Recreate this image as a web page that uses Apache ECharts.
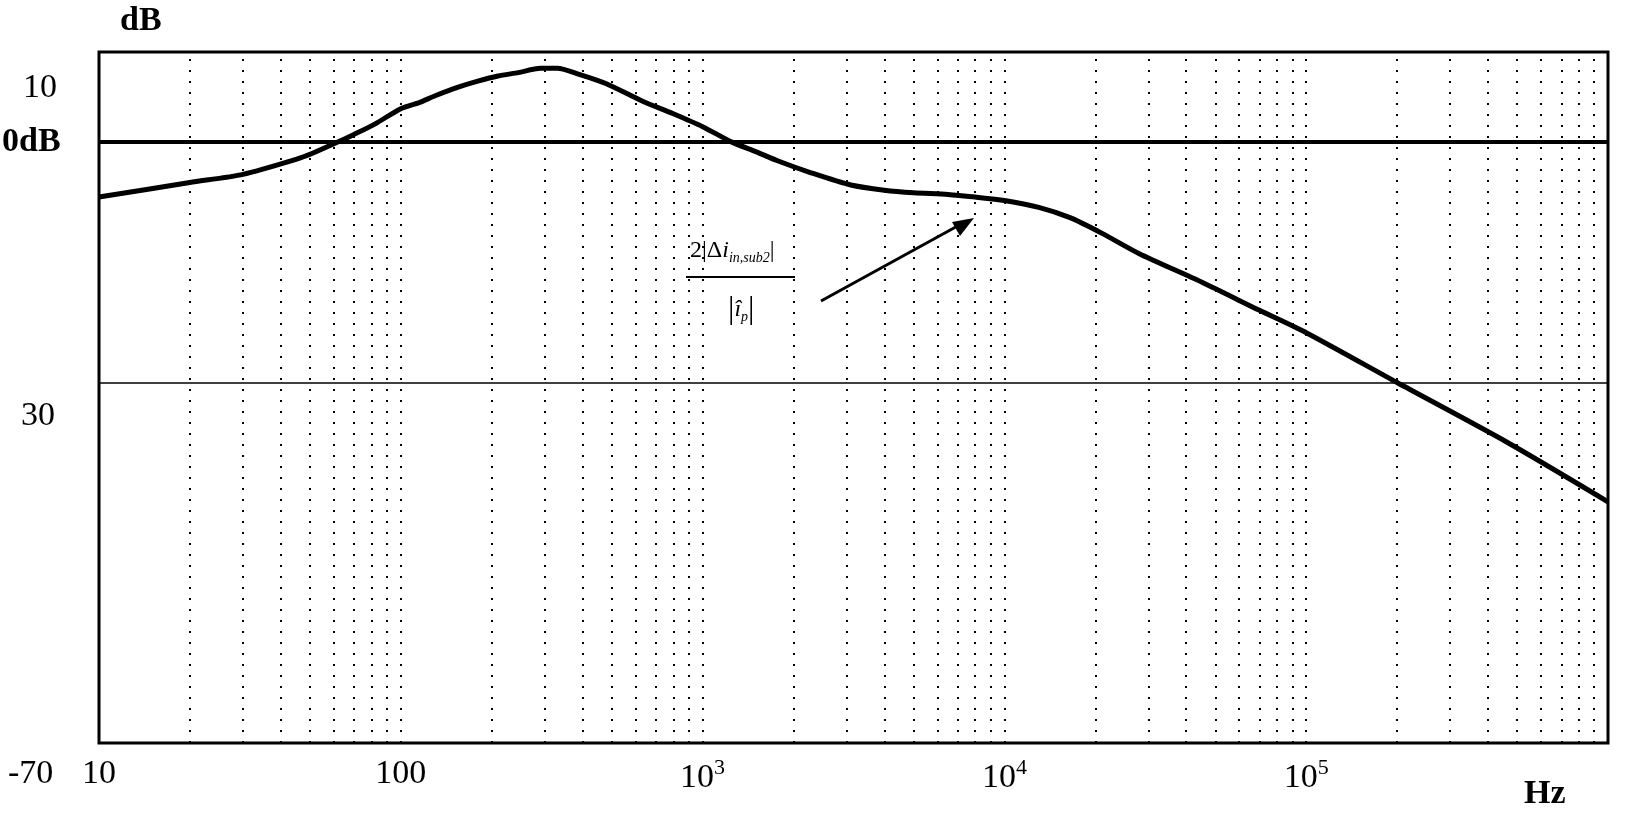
<!DOCTYPE html>
<html><head><meta charset="utf-8">
<script src="https://cdn.jsdelivr.net/npm/echarts@6/dist/echarts.min.js"></script>
<style>html,body{margin:0;padding:0;background:#fff}#c{width:1628px;height:818px}</style>
</head><body><div id="c"></div>
<script>
const freq = [10,20,30,45,51,60,70,82,100,115,130,155,180,210,245,290,330,390,480,630,800,1000,1250,1500,1780,2300,3100,4000,5000,6500,8000,10000,13000,16500,21000,28000,45000,70000,100000,200000,460000,1000000];
const gainDb = [-6.4,-4.7,-3.75,-2.0,-1.3,-0.2,0.9,2.1,3.9,4.6,5.4,6.4,7.1,7.7,8.1,8.6,8.6,7.9,6.8,4.8,3.3,1.8,0,-1.1,-2.2,-3.6,-5.0,-5.6,-5.9,-6.1,-6.4,-6.8,-7.6,-8.8,-10.6,-13,-16.3,-19.6,-22.2,-28,-34.9,-41.9];
const gridFreqs = [20,30,40,50,60,70,80,90,100,200,300,400,500,600,700,800,900,1000,2000,3000,4000,5000,6000,7000,8000,9000,10000,20000,30000,40000,50000,60000,70000,80000,90000,100000,200000,300000,400000,500000,600000,700000,800000,900000];
const refLines = [{v:0,w:4},{v:-28,w:1.5}];
const yTickLabels = [{t:'10',x:23,y:88,b:false},{t:'0dB',x:2,y:142,b:true},{t:'30',x:21,y:416,b:false},{t:'-70',x:8,y:774,b:false}];
const F = 'Liberation Serif';
const ch = echarts.init(document.getElementById('c'));
ch.setOption({
  animation:false,
  grid:{left:99,right:20,top:52,bottom:75,show:true,borderColor:'#000',borderWidth:3},
  xAxis:{type:'log',min:10,max:1000000,logBase:10,
    axisLine:{show:false},axisTick:{show:false},splitLine:{show:false},
    axisLabel:{margin:14,fontFamily:F,fontSize:34,color:'#000',
      formatter:v=>{ if(v>=1e6) return ''; if(v<1000) return String(Math.round(v)); return '{b|10}{s|'+Math.round(Math.log10(v))+'}';},
      rich:{b:{fontFamily:F,fontSize:34,color:'#000'},s:{fontFamily:F,fontSize:22,color:'#000',verticalAlign:'top',padding:[0,0,20,0]}}}},
  yAxis:{type:'value',min:-70,max:10.5,axisLabel:{show:false},axisLine:{show:false},axisTick:{show:false},splitLine:{show:false}},
  series:[
    {type:'line',data:[],markLine:{symbol:'none',silent:true,label:{show:false},
      lineStyle:{color:'#000',type:[2,9],width:2},
      data:gridFreqs.map(f=>({xAxis:f}))}},
    {type:'line',data:[],markLine:{symbol:'none',silent:true,label:{show:false},
      data:refLines.map(r=>({yAxis:r.v,lineStyle:{color:'#000',type:'solid',width:r.w}}))}},
    {type:'line',smooth:0.25,symbol:'none',data:freq.map((f,i)=>[f,gainDb[i]]),lineStyle:{color:'#000',width:5}}
  ],
  graphic:[
    {type:'text',left:120,top:4,style:{text:'dB',font:'bold 34px '+F,fill:'#000'}},
    {type:'text',left:1524,top:777,style:{text:'Hz',font:'bold 34px '+F,fill:'#000'}},
    ...yTickLabels.map(l=>({type:'text',x:l.x,y:l.y,style:{text:l.t,font:(l.b?'bold ':'')+'34px '+F,fill:'#000',verticalAlign:'middle'}})),
    {type:'text',x:690,y:251,style:{text:'{n|2|Δ}{i|i}{s|in,sub2}{n||}',verticalAlign:'middle',
      rich:{n:{fontFamily:F,fontSize:24,fill:'#000'},i:{fontFamily:F,fontSize:24,fontStyle:'italic',fill:'#000'},s:{fontFamily:F,fontSize:14,fontStyle:'italic',fill:'#000',padding:[14,0,0,0]}}}},
    {type:'line',shape:{x1:686,y1:277,x2:795,y2:277},style:{stroke:'#000',lineWidth:2}},
    {type:'text',x:728,y:310,style:{text:'{n||}{i|î}{s|p}{n||}',verticalAlign:'middle',
      rich:{n:{fontFamily:F,fontSize:32,fill:'#000'},i:{fontFamily:F,fontSize:24,fontStyle:'italic',fill:'#000'},s:{fontFamily:F,fontSize:14,fontStyle:'italic',fill:'#000',padding:[14,0,0,0]}}}},
    {type:'line',shape:{x1:821,y1:301,x2:963,y2:223},style:{stroke:'#000',lineWidth:3}},
    {type:'polygon',shape:{points:[[974,218],[952,222],[960,236]]},style:{fill:'#000'}}
  ]
});
</script></body></html>
